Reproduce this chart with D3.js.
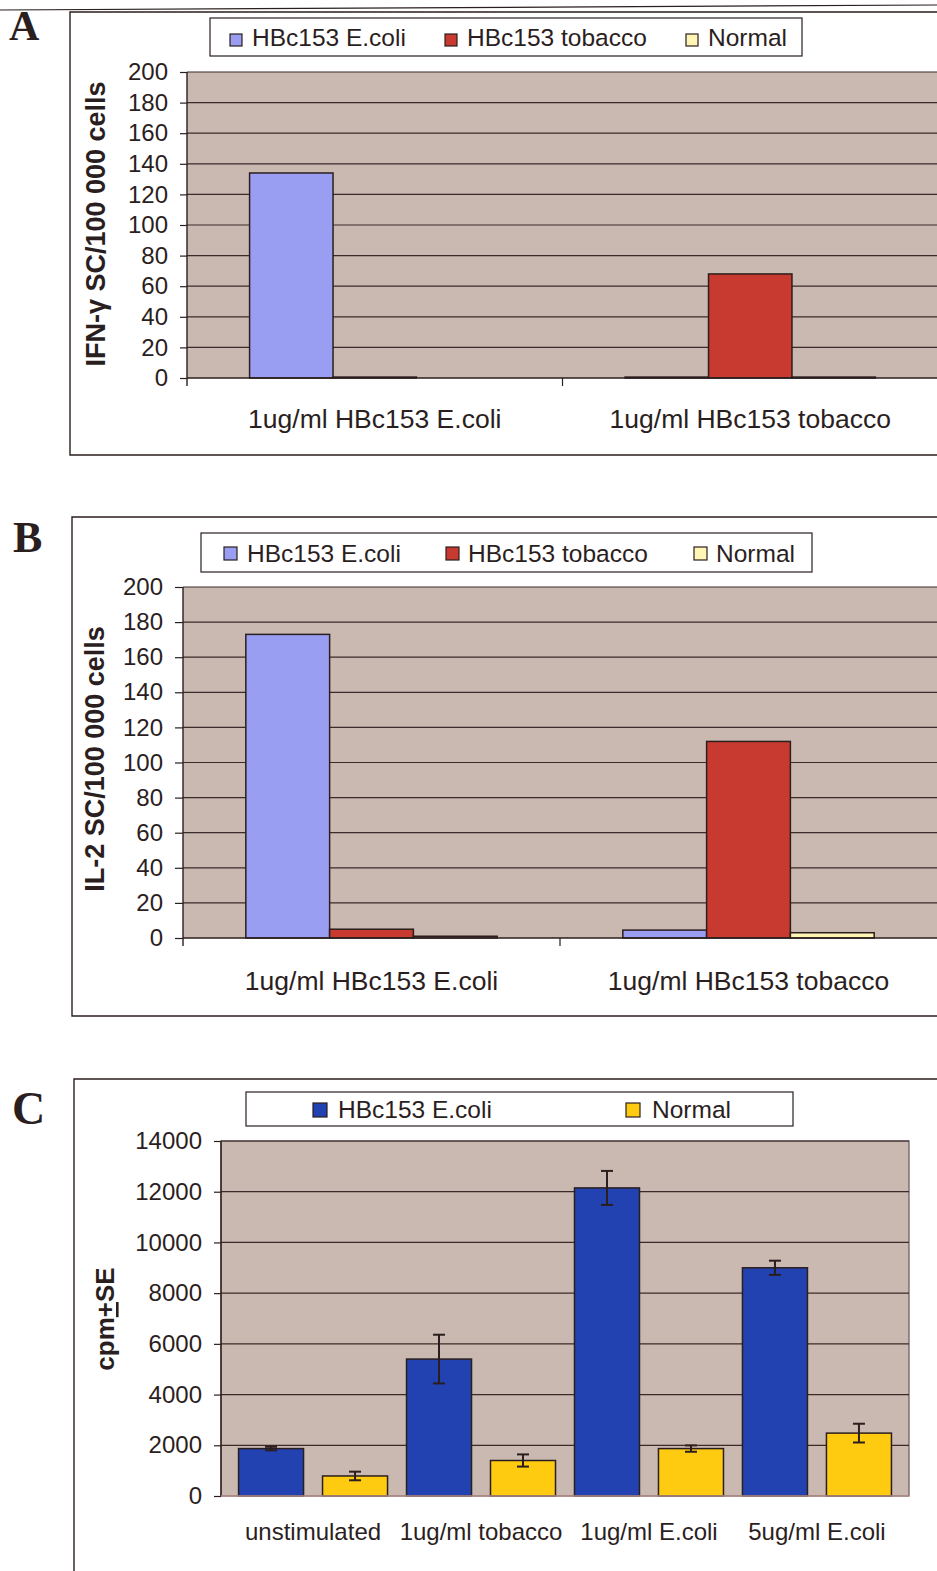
<!DOCTYPE html>
<html>
<head>
<meta charset="utf-8">
<script src="https://cdn.jsdelivr.net/npm/d3@7/dist/d3.min.js"></script>
<style>
  html, body { margin: 0; padding: 0; background: #ffffff; }
  svg { display: block; }
</style>
</head>
<body>
<div id="chart"></div>
<script>
// ---- data ----
// Panels A and B: spot-forming cells per 100 000 cells
const seriesAB = ["HBc153 E.coli", "HBc153 tobacco", "Normal"];
const categoriesAB = ["1ug/ml HBc153 E.coli", "1ug/ml HBc153 tobacco"];
const ticksAB = [0, 20, 40, 60, 80, 100, 120, 140, 160, 180, 200];

// A: IFN-γ
const ifnEcoli = [134, 0.6];
const ifnTobacco = [0.6, 68];
const ifnNormal = [0, 0.6];

// B: IL-2
const il2Ecoli = [173, 4.5];
const il2Tobacco = [5, 112];
const il2Normal = [1, 3];

// Panel C: proliferation, cpm ± SE
const seriesC = ["HBc153 E.coli", "Normal"];
const categoriesC = ["unstimulated", "1ug/ml tobacco", "1ug/ml E.coli", "5ug/ml E.coli"];
const cpmEcoli = [1870, 5400, 12150, 9000];
const seEcoli = [70, 960, 670, 280];
const cpmNormal = [790, 1400, 1870, 2480];
const seNormal = [170, 240, 125, 370];
const ticksC = [0, 2000, 4000, 6000, 8000, 10000, 12000, 14000];

// ---- style ----
const W = 937, H = 1571;
const INK = "#2b1e1e";
const PLOT_BG = "#cab9b1";
const colorsAB = ["#9a9ef2", "#c83a2f", "#fff5b5"];
const colorsC = ["#2142b0", "#ffcb10"];
const SANS = "'Liberation Sans', Arial, Helvetica, sans-serif";
const SERIF = "'Liberation Serif', 'Times New Roman', serif";

const svg = d3.select("#chart").append("svg")
  .attr("width", W).attr("height", H)
  .attr("viewBox", `0 0 ${W} ${H}`);

svg.append("rect").attr("width", W).attr("height", H).attr("fill", "#ffffff");

// rule across the top of the page
svg.append("line")
  .attr("x1", 0).attr("y1", 10).attr("x2", W).attr("y2", 5)
  .attr("stroke", INK).attr("stroke-width", 1.2);

function panel(cfg) {
  const g = svg.append("g");

  // panel frame, open at the right edge of the page
  const f = cfg.frame;
  g.append("path")
    .attr("d", `M${W + 5},${f.top}H${f.left}V${f.bottom}H${W + 5}`)
    .attr("fill", "none").attr("stroke", INK).attr("stroke-width", 1.4);

  // panel letter
  g.append("text")
    .attr("x", cfg.letter.x).attr("y", cfg.letter.y)
    .attr("font-family", SERIF).attr("font-weight", "bold")
    .attr("font-size", cfg.letter.size)
    .attr("fill", INK)
    .text(cfg.letter.text);

  // legend
  const L = cfg.legend;
  const lg = g.append("g");
  lg.append("rect")
    .attr("x", L.x).attr("y", L.y).attr("width", L.w).attr("height", L.h)
    .attr("fill", "#ffffff").attr("stroke", INK).attr("stroke-width", 1.2);
  cfg.series.forEach((s, i) => {
    lg.append("rect")
      .attr("x", L.sx[i]).attr("y", L.sy).attr("width", L.ss).attr("height", L.ss)
      .attr("fill", cfg.colors[i]).attr("stroke", INK).attr("stroke-width", 1.2);
    lg.append("text")
      .attr("x", L.tx[i]).attr("y", L.ty)
      .attr("font-family", SANS).attr("font-size", L.fs)
      .attr("fill", INK)
      .text(s);
  });

  // scales
  const p = cfg.plot;
  const x = d3.scaleBand().domain(cfg.categories)
    .range([p.left, p.right]).paddingInner(0).paddingOuter(cfg.catOuter);
  const xs = d3.scaleBand().domain(cfg.series)
    .range([0, x.bandwidth()]).paddingInner(cfg.subInner).paddingOuter(cfg.subOuter);
  const y = d3.scaleLinear().domain([0, cfg.ticks[cfg.ticks.length - 1]])
    .range([p.bottom, p.top]);

  // plot area
  g.append("rect")
    .attr("x", p.left).attr("y", p.top)
    .attr("width", p.right - p.left).attr("height", p.bottom - p.top)
    .attr("fill", PLOT_BG)
    .attr("stroke", cfg.plotBorder ? "#6a5454" : "none").attr("stroke-width", 1.2);

  // horizontal gridlines
  g.append("g").selectAll("line")
    .data(cfg.ticks.filter(t => t > 0))
    .join("line")
    .attr("x1", p.left).attr("x2", p.right)
    .attr("y1", d => y(d)).attr("y2", d => y(d))
    .attr("stroke", "#3a2a2a").attr("stroke-width", 1.2);

  // value axis
  const ax = g.append("g")
    .attr("transform", `translate(${p.left},0)`)
    .call(d3.axisLeft(y).tickValues(cfg.ticks).tickSize(cfg.tickSize)
      .tickPadding(cfg.tickPad).tickSizeOuter(0).tickFormat(d3.format("d")));
  ax.select(".domain").remove();
  ax.selectAll(".tick line").attr("stroke", INK).attr("stroke-width", 1.2);
  ax.selectAll(".tick text")
    .attr("font-family", SANS).attr("font-size", cfg.tickFs).attr("fill", INK);
  g.append("line")
    .attr("x1", p.left).attr("x2", p.left)
    .attr("y1", p.top).attr("y2", p.bottom + (cfg.catTicks ? 8 : 0))
    .attr("stroke", INK).attr("stroke-width", 1.4);

  // bars
  const rows = [];
  cfg.categories.forEach((c, ci) => {
    cfg.series.forEach((s, si) => {
      rows.push({ c, s, si, v: cfg.values[si][ci], e: cfg.errors ? cfg.errors[si][ci] : null });
    });
  });
  g.append("g").selectAll("rect")
    .data(rows.filter(d => d.v > 0))
    .join("rect")
    .attr("x", d => x(d.c) + xs(d.s))
    .attr("y", d => y(d.v))
    .attr("width", xs.bandwidth())
    .attr("height", d => y(0) - y(d.v))
    .attr("fill", d => cfg.colors[d.si])
    .attr("stroke", INK).attr("stroke-width", 1.5);

  // category axis
  g.append("line")
    .attr("x1", p.left).attr("x2", Math.min(p.right, W + 5))
    .attr("y1", p.bottom).attr("y2", p.bottom)
    .attr("stroke", cfg.catTicks ? INK : "#b38f8a").attr("stroke-width", 1.4);
  if (cfg.catTicks) {
    g.append("g").selectAll("line")
      .data(cfg.categories.slice(1))
      .join("line")
      .attr("x1", d => x(d)).attr("x2", d => x(d))
      .attr("y1", p.bottom).attr("y2", p.bottom + 8)
      .attr("stroke", INK).attr("stroke-width", 1.2);
  }

  // error bars
  if (cfg.errors) {
    const eg = g.append("g").attr("stroke", INK).attr("stroke-width", 2).attr("fill", "none");
    rows.forEach(d => {
      const cx = x(d.c) + xs(d.s) + xs.bandwidth() / 2;
      const y1 = y(d.v + d.e), y2 = y(d.v - d.e);
      eg.append("line").attr("x1", cx).attr("x2", cx).attr("y1", y1).attr("y2", y2);
      eg.append("line").attr("x1", cx - 6).attr("x2", cx + 6).attr("y1", y1).attr("y2", y1);
      eg.append("line").attr("x1", cx - 6).attr("x2", cx + 6).attr("y1", y2).attr("y2", y2);
    });
  }

  // category labels
  g.append("g").selectAll("text")
    .data(cfg.categories)
    .join("text")
    .attr("x", d => x(d) + x.bandwidth() / 2)
    .attr("y", cfg.catLabelY)
    .attr("text-anchor", "middle")
    .attr("font-family", SANS).attr("font-size", cfg.catFs)
    .attr("fill", INK)
    .text(d => d);

  // value-axis title
  const t = g.append("text")
    .attr("transform", `translate(${cfg.title.x},${cfg.title.y}) rotate(-90)`)
    .attr("text-anchor", "middle")
    .attr("font-family", SANS).attr("font-weight", "bold")
    .attr("font-size", cfg.title.size)
    .attr("fill", INK);
  cfg.title.parts.forEach(part => {
    const ts = t.append("tspan").text(part.text);
    if (part.underline) ts.attr("text-decoration", "underline");
  });
}

// A: IFN-γ ELISPOT
panel({
  frame: { left: 70, top: 12, bottom: 455 },
  letter: { text: "A", x: 9, y: 40, size: 42 },
  legend: { x: 210, y: 18, w: 592, h: 38, sx: [230, 445, 686], sy: 34, ss: 12,
            tx: [252, 467, 708], ty: 46, fs: 24.5 },
  series: seriesAB, colors: colorsAB, categories: categoriesAB,
  values: [ifnEcoli, ifnTobacco, ifnNormal],
  ticks: ticksAB,
  plot: { left: 187, right: 938, top: 72, bottom: 378 },
  catOuter: 0, subInner: 0, subOuter: 0.75,
  tickSize: 7, tickPad: 12, tickFs: 24,
  catTicks: true, catLabelY: 428, catFs: 26.5,
  title: { x: 105, y: 224, size: 27, parts: [{ text: "IFN-γ SC/100 000 cells" }] }
});

// B: IL-2 ELISPOT
panel({
  frame: { left: 72, top: 517, bottom: 1016 },
  letter: { text: "B", x: 13, y: 552, size: 44 },
  legend: { x: 201, y: 533, w: 611, h: 39, sx: [224, 446, 694], sy: 547, ss: 13,
            tx: [247, 468, 716], ty: 562, fs: 24.5 },
  series: seriesAB, colors: colorsAB, categories: categoriesAB,
  values: [il2Ecoli, il2Tobacco, il2Normal],
  ticks: ticksAB,
  plot: { left: 183, right: 937, top: 587, bottom: 938 },
  catOuter: 0, subInner: 0, subOuter: 0.75,
  tickSize: 8, tickPad: 12, tickFs: 24,
  catTicks: true, catLabelY: 990, catFs: 26.5,
  title: { x: 104, y: 759, size: 27, parts: [{ text: "IL-2 SC/100 000 cells" }] }
});

// C: proliferation
panel({
  frame: { left: 74, top: 1079, bottom: H + 10 },
  letter: { text: "C", x: 12, y: 1124, size: 46 },
  legend: { x: 246, y: 1092, w: 547, h: 34, sx: [313, 626], sy: 1103, ss: 14,
            tx: [338, 652], ty: 1118, fs: 24.5 },
  series: seriesC, colors: colorsC, categories: categoriesC,
  values: [cpmEcoli, cpmNormal], errors: [seEcoli, seNormal],
  ticks: ticksC,
  plot: { left: 221, right: 909, top: 1141, bottom: 1496 },
  plotBorder: true,
  catOuter: 0.048, subInner: 0.226, subOuter: 0.113,
  tickSize: 7, tickPad: 12, tickFs: 24,
  catTicks: false, catLabelY: 1540, catFs: 24,
  title: { x: 114, y: 1319, size: 26,
           parts: [{ text: "cpm" }, { text: "+", underline: true }, { text: "SE" }] }
});
</script>
</body>
</html>
